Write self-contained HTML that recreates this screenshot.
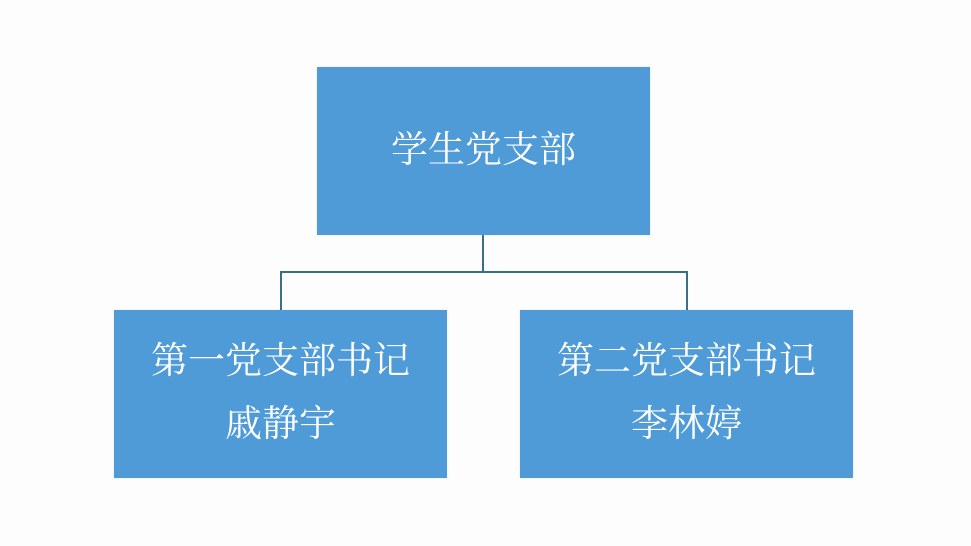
<!DOCTYPE html>
<html><head><meta charset="utf-8"><style>
body{margin:0;width:971px;height:546px;background:#fdfdfd;position:relative;overflow:hidden}
.b{position:absolute;background:#4f9bd7;color:#fff;font-family:"Liberation Serif","Noto Serif CJK SC",serif;font-size:37px;text-align:center;box-shadow:0 0 2px rgba(0,0,0,0.1)}
.l{position:absolute;background:#3b6f84}
</style></head><body>
<div class="b" style="left:317px;top:67px;width:333px;height:168px;line-height:168px">学生党支部</div>
<div class="b" style="left:114px;top:310px;width:333px;height:168px"><div style="position:absolute;left:0;right:0;top:330px;margin-top:-310px;line-height:63px">第一党支部书记<br>戚静宇</div></div>
<div class="b" style="left:520px;top:310px;width:333px;height:168px"><div style="position:absolute;left:0;right:0;top:20px;line-height:63px">第二党支部书记<br>李林婷</div></div>
<div class="l" style="left:482px;top:235px;width:2px;height:37px"></div>
<div class="l" style="left:280px;top:271px;width:408px;height:2px"></div>
<div class="l" style="left:280px;top:271px;width:2px;height:39px"></div>
<div class="l" style="left:686px;top:271px;width:2px;height:39px"></div>
</body></html>
